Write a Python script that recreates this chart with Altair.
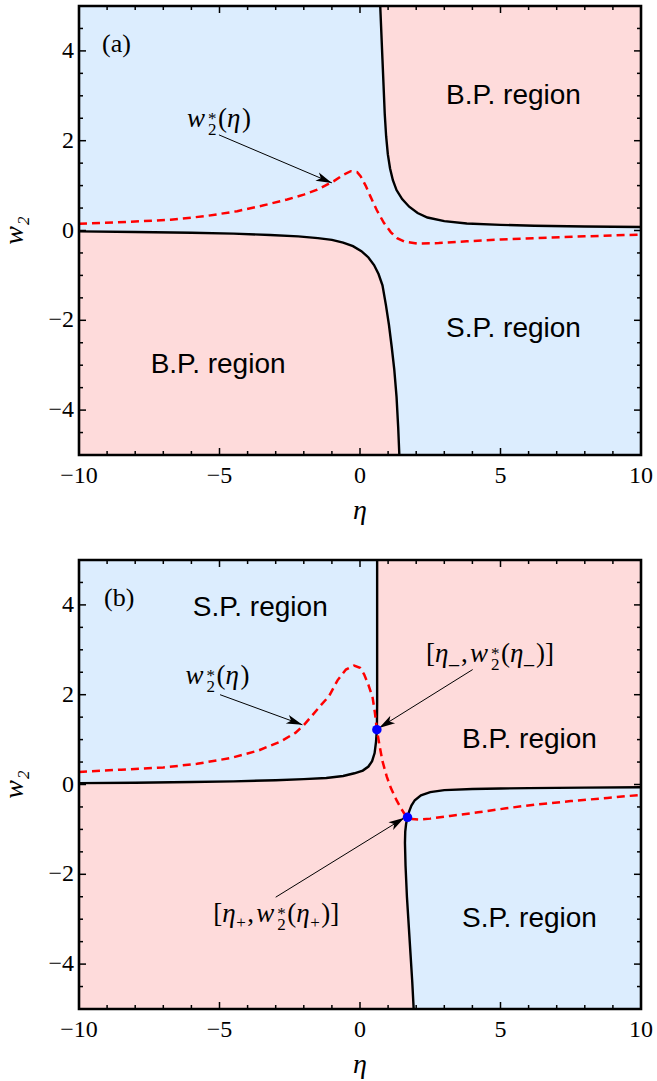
import math
import altair as alt
import pandas as pd

# ---------------- data ----------------
ETA_MIN, ETA_MAX = -10, 10
W_MIN, W_MAX = -5, 5

X_MAJOR = [-10, -5, 0, 5, 10]
X_TICK_LABELS = ["−10", "−5", "0", "5", "10"]
X_MINOR = [-9, -8, -7, -6, -4, -3, -2, -1, 1, 2, 3, 4, 6, 7, 8, 9]
Y_MAJOR = [-4, -2, 0, 2, 4]
Y_TICK_LABELS = ["−4", "−2", "0", "2", "4"]
Y_MINOR = [-4.5, -3.5, -3, -2.5, -1.5, -1, -0.5, 0.5, 1, 1.5, 2.5, 3, 3.5, 4.5]
X_TITLE = "η"
Y_TITLE = "w₂"

# panel (a)
a_upper_eta = [0.72, 0.76, 0.80, 0.84, 0.88, 0.93, 0.99, 1.07, 1.17, 1.30, 1.50, 1.75, 2.05, 2.40, 3.0, 3.8, 5.0, 6.2, 8.0, 10.0]
a_upper_w = [5.0, 4.4, 3.8, 3.2, 2.6, 2.1, 1.7, 1.38, 1.12, 0.9, 0.7, 0.53, 0.39, 0.29, 0.21, 0.155, 0.125, 0.107, 0.09, 0.078]
a_lower_eta = [-10.0, -8.0, -6.0, -4.5, -3.2, -2.2, -1.5, -1.0, -0.6, -0.25, 0.05, 0.3, 0.5, 0.66, 0.8, 0.92, 1.03, 1.13, 1.22, 1.3, 1.36, 1.4]
a_lower_w = [-0.02, -0.035, -0.05, -0.07, -0.1, -0.13, -0.17, -0.21, -0.27, -0.35, -0.46, -0.6, -0.77, -0.97, -1.22, -1.65, -2.1, -2.6, -3.1, -3.7, -4.4, -5.0]
a_red_eta = [-10, -8, -6.74, -5.5, -4.37, -3.5, -2.59, -2.0, -1.52, -0.93, -0.6, -0.33, -0.1, 0.02, 0.2, 0.37, 0.6, 0.85, 1.1, 1.32, 1.6, 2.03, 2.8, 3.8, 5.0, 6.19, 8.0, 10.0]
a_red_w = [0.15, 0.2, 0.24, 0.32, 0.43, 0.55, 0.69, 0.8, 0.91, 1.1, 1.24, 1.32, 1.3, 1.21, 1.0, 0.76, 0.45, 0.17, -0.04, -0.17, -0.25, -0.29, -0.28, -0.24, -0.2, -0.17, -0.13, -0.09]

# panel (b)
b_ul_eta = [-10.0, -8.0, -6.0, -4.5, -3.0, -2.0, -1.2, -0.6, -0.2, 0.1, 0.3, 0.43, 0.52, 0.57, 0.6, 0.61, 0.61, 0.61]
b_ul_w = [0.03, 0.04, 0.055, 0.07, 0.095, 0.12, 0.145, 0.19, 0.25, 0.31, 0.4, 0.52, 0.7, 0.95, 1.22, 1.8, 3.0, 5.0]
b_lr_eta = [1.91, 1.86, 1.80, 1.73, 1.67, 1.62, 1.60, 1.61, 1.64, 1.69, 1.75, 1.83, 1.95, 2.17, 2.5, 3.0, 4.0, 5.0, 6.0, 8.0, 10.0]
b_lr_w = [-5.0, -4.4, -3.8, -3.1, -2.5, -1.8, -1.3, -1.05, -0.88, -0.73, -0.6, -0.47, -0.35, -0.24, -0.17, -0.125, -0.1, -0.09, -0.08, -0.07, -0.06]
b_red_eta = [-10, -8.5, -7, -5.8, -4.6, -3.6, -2.82, -2.3, -1.99, -1.7, -1.4, -1.1, -0.8, -0.5, -0.21, 0.0, 0.15, 0.3, 0.45, 0.53, 0.6, 0.7, 0.8, 0.95, 1.1, 1.3, 1.45, 1.58, 1.69, 1.85, 2.1, 2.5, 3.2, 4.2, 5.2, 6.2, 7.5, 8.8, 10]
b_red_w = [0.28, 0.33, 0.38, 0.46, 0.59, 0.76, 0.96, 1.15, 1.33, 1.54, 1.76, 1.97, 2.32, 2.56, 2.65, 2.6, 2.45, 2.22, 1.93, 1.6, 1.22, 0.85, 0.52, 0.18, -0.08, -0.35, -0.52, -0.65, -0.73, -0.77, -0.78, -0.76, -0.7, -0.62, -0.53, -0.45, -0.37, -0.3, -0.23]
b_dot_eta = [0.6, 1.69]
b_dot_w = [1.22, -0.73]

# arrows: tail -> tip
a_arrow_tail_eta, a_arrow_tail_w = [-5.02], [2.13]
a_arrow_tip_eta, a_arrow_tip_w = [-1.0], [1.06]
b_arrow_tail_eta, b_arrow_tail_w = [-4.98, 4.01, -3.0], [2.0, 2.56, -2.51]
b_arrow_tip_eta, b_arrow_tip_w = [-2.05, 0.68, 1.58], [1.33, 1.26, -0.74]

# region labels
a_region_text = ["B.P. region", "S.P. region", "B.P. region"]
a_region_eta = [5.46, 5.46, -5.05]
a_region_w = [3.0, -2.2, -3.0]
b_region_text = ["S.P. region", "B.P. region", "S.P. region"]
b_region_eta = [-3.55, 6.03, 6.03]
b_region_w = [3.93, 1.0, -3.0]

# math label anchors (left, baseline)
a_wlabel = (-6.16, 2.31)
b_wlabel = (-6.21, 2.24)
b_minus_label = (2.35, 2.73)
b_plus_label = (-5.22, -3.06)
a_panel = (-9.18, 3.98)
b_panel = (-9.11, 3.98)

# ---------------- styling ----------------
W_PX, H_PX = 562, 449
BLUE = "#dcedfe"
PINK = "#fedbdb"
SERIF = "Liberation Serif"
SANS = "Liberation Sans"
ARROW_PATH = "M0,0L-0.45,1.6L0,1.2L0.45,1.6Z"
MAJOR_LEN, MINOR_LEN = 7, 4
PX_X = (ETA_MAX - ETA_MIN) / W_PX
PX_Y = (W_MAX - W_MIN) / H_PX

x_scale = alt.Scale(domain=[ETA_MIN, ETA_MAX], nice=False, zero=False)
y_scale = alt.Scale(domain=[W_MIN, W_MAX], nice=False, zero=False)


def X(f):
    return alt.X(f"{f}:Q", scale=x_scale, axis=None)


def Y(f):
    return alt.Y(f"{f}:Q", scale=y_scale, axis=None)


frame_df = pd.DataFrame({"x": [ETA_MIN], "x2": [ETA_MAX], "y": [W_MIN], "y2": [W_MAX]})


def bg_layer(color):
    return alt.Chart(frame_df).mark_rect(color=color, opacity=1).encode(
        x=X("x"), x2=alt.X2("x2"), y=Y("y"), y2=alt.Y2("y2"))


def frame_layer():
    return alt.Chart(frame_df).mark_rect(fillOpacity=0, stroke="black", strokeWidth=2.6).encode(
        x=X("x"), x2=alt.X2("x2"), y=Y("y"), y2=alt.Y2("y2"))


def tick_layers():
    """Inward ticks on all four sides of the frame."""
    out = []
    for vals, length in [(X_MAJOR, MAJOR_LEN), (X_MINOR, MINOR_LEN)]:
        for edge, off in [(W_MIN, -length / 2), (W_MAX, length / 2)]:
            df = pd.DataFrame({"eta": vals, "w": [edge] * len(vals)})
            out.append(alt.Chart(df).mark_tick(orient="vertical", size=length, thickness=1.5,
                                               color="black", opacity=1, yOffset=off).encode(
                x=X("eta"), y=Y("w")))
    for vals, length in [(Y_MAJOR, MAJOR_LEN), (Y_MINOR, MINOR_LEN)]:
        for edge, off in [(ETA_MIN, length / 2), (ETA_MAX, -length / 2)]:
            df = pd.DataFrame({"w": vals, "eta": [edge] * len(vals)})
            out.append(alt.Chart(df).mark_tick(orient="horizontal", size=length, thickness=1.5,
                                               color="black", opacity=1, xOffset=off).encode(
                x=X("eta"), y=Y("w")))
    return out


def axis_text_layers():
    """Tick labels and axis titles, placed along the frame edges."""
    xdf = pd.DataFrame({"eta": X_MAJOR, "w": [W_MIN] * len(X_MAJOR), "t": X_TICK_LABELS})
    ydf = pd.DataFrame({"eta": [ETA_MIN] * len(Y_MAJOR), "w": Y_MAJOR, "t": Y_TICK_LABELS})
    xt = pd.DataFrame({"eta": [(ETA_MIN + ETA_MAX) / 2], "w": [W_MIN], "t": [X_TITLE]})
    yt = pd.DataFrame({"eta": [ETA_MIN], "w": [(W_MIN + W_MAX) / 2], "t": [Y_TITLE]})
    return [
        alt.Chart(xdf).mark_text(font=SERIF, fontSize=24, color="black", align="center",
                                 baseline="alphabetic", dy=28).encode(x=X("eta"), y=Y("w"), text="t:N"),
        alt.Chart(ydf).mark_text(font=SERIF, fontSize=24, color="black", align="right",
                                 baseline="middle", dx=-5).encode(x=X("eta"), y=Y("w"), text="t:N"),
        alt.Chart(xt).mark_text(font=SERIF, fontSize=28, fontStyle="italic", color="black",
                                align="center", baseline="alphabetic", dy=64).encode(
            x=X("eta"), y=Y("w"), text="t:N"),
        alt.Chart(yt).mark_text(font=SERIF, fontSize=28, fontStyle="italic", color="black",
                                align="center", baseline="alphabetic", angle=270, dy=-56).encode(
            x=X("eta"), y=Y("w"), text="t:N"),
    ]


def vert_area(eta, w, edge, color):
    df = pd.DataFrame({"eta": eta, "w": w, "edge": [edge] * len(eta)})
    return alt.Chart(df).mark_area(color=color, opacity=1).encode(
        x=X("eta"), y=Y("w"), y2=alt.Y2("edge"))


def horiz_area(eta, w, edge, color):
    df = pd.DataFrame({"eta": eta, "w": w, "edge": [edge] * len(eta)})
    return alt.Chart(df).mark_area(color=color, opacity=1, orient="horizontal").encode(
        y=Y("w"), x=X("eta"), x2=alt.X2("edge"))


def curve(eta, w, color="black", width=2.4, dash=None):
    df = pd.DataFrame({"eta": eta, "w": w, "i": list(range(len(eta)))})
    kw = dict(color=color, strokeWidth=width)
    if dash:
        kw["strokeDash"] = dash
    return alt.Chart(df).mark_line(**kw).encode(x=X("eta"), y=Y("w"), order=alt.Order("i:Q"))


def arrows(t_eta, t_w, h_eta, h_w):
    angs = []
    for a, b, c, d in zip(t_eta, t_w, h_eta, h_w):
        dxp = (c - a) / PX_X
        dyp = -(d - b) / PX_Y
        angs.append(math.degrees(math.atan2(dxp, -dyp)) % 360)
    df = pd.DataFrame({"x1": t_eta, "y1": t_w, "xt": h_eta, "yt": h_w, "ang": angs})
    rule = alt.Chart(df).mark_rule(color="black", strokeWidth=1).encode(
        x=X("x1"), y=Y("y1"), x2=alt.X2("xt"), y2=alt.Y2("yt"))
    head = alt.Chart(df).mark_point(shape=ARROW_PATH, filled=True, size=400, color="black",
                                    opacity=1, strokeWidth=0).encode(
        x=X("xt"), y=Y("yt"), angle=alt.Angle("ang:Q", scale=None))
    return [rule, head]


def region_labels(texts, eta, w):
    df = pd.DataFrame({"t": texts, "eta": eta, "w": w})
    return alt.Chart(df).mark_text(font=SANS, fontSize=28, color="black", align="center",
                                   baseline="middle").encode(x=X("eta"), y=Y("w"), text="t:N")


def math_label(anchor, pieces):
    df = pd.DataFrame({"eta": [anchor[0]], "w": [anchor[1]]})
    out = []
    cur = 0
    for txt, size, italic, dy, adv in pieces:
        out.append(alt.Chart(df).mark_text(text=txt, font=SERIF, fontSize=size,
                                           fontStyle="italic" if italic else "normal",
                                           align="left", baseline="alphabetic", color="black",
                                           dx=cur, dy=dy).encode(x=X("eta"), y=Y("w")))
        cur += adv
    return out


W_STAR = [("w", 27, True, 0, 21), ("*", 17, False, -3, 0), ("2", 17, False, 8, 10)]
W_ETA = W_STAR + [("(", 27, False, 0, 9), ("η", 27, True, 0, 15), (")", 27, False, 0, 9)]
MINUS_LABEL = ([("[", 27, False, 0, 9), ("η", 27, True, 0, 14), ("_", 20, False, 1, 12), (",", 27, False, 0, 9)]
               + W_STAR + [("(", 27, False, 0, 9), ("η", 27, True, 0, 14), ("_", 20, False, 1, 12),
                           (")", 27, False, 0, 9), ("]", 27, False, 0, 9)])
PLUS_LABEL = ([("[", 27, False, 0, 9), ("η", 27, True, 0, 14), ("+", 17, False, 6, 11), (",", 27, False, 0, 9)]
              + W_STAR + [("(", 27, False, 0, 9), ("η", 27, True, 0, 14), ("+", 17, False, 6, 11),
                          (")", 27, False, 0, 9), ("]", 27, False, 0, 9)])

# ---------------- panel (a) ----------------
layers_a = [
    bg_layer(BLUE),
    vert_area(a_upper_eta, a_upper_w, W_MAX, PINK),
    vert_area(a_lower_eta, a_lower_w, W_MIN, PINK),
    curve(a_upper_eta, a_upper_w),
    curve(a_lower_eta, a_lower_w),
    curve(a_red_eta, a_red_w, color="#ff0000", width=2.5, dash=[8, 5]),
    *arrows(a_arrow_tail_eta, a_arrow_tail_w, a_arrow_tip_eta, a_arrow_tip_w),
    region_labels(a_region_text, a_region_eta, a_region_w),
    *math_label(a_wlabel, W_ETA),
    *math_label(a_panel, [("(a)", 26, False, 0, 0)]),
    *tick_layers(),
    frame_layer(),
    *axis_text_layers(),
]
panel_a = alt.layer(*layers_a).properties(width=W_PX, height=H_PX)

# ---------------- panel (b) ----------------
dots_df = pd.DataFrame({"eta": b_dot_eta, "w": b_dot_w})
layers_b = [
    bg_layer(PINK),
    horiz_area(b_ul_eta, b_ul_w, ETA_MIN, BLUE),
    horiz_area(b_lr_eta, b_lr_w, ETA_MAX, BLUE),
    curve(b_ul_eta, b_ul_w),
    curve(b_lr_eta, b_lr_w),
    curve(b_red_eta, b_red_w, color="#ff0000", width=2.5, dash=[8, 5]),
    *arrows(b_arrow_tail_eta, b_arrow_tail_w, b_arrow_tip_eta, b_arrow_tip_w),
    alt.Chart(dots_df).mark_circle(size=90, color="#0000ff", opacity=1).encode(x=X("eta"), y=Y("w")),
    region_labels(b_region_text, b_region_eta, b_region_w),
    *math_label(b_wlabel, W_ETA),
    *math_label(b_minus_label, MINUS_LABEL),
    *math_label(b_plus_label, PLUS_LABEL),
    *math_label(b_panel, [("(b)", 26, False, 0, 0)]),
    *tick_layers(),
    frame_layer(),
    *axis_text_layers(),
]
panel_b = alt.layer(*layers_b).properties(width=W_PX, height=H_PX)

chart = alt.vconcat(panel_a, panel_b, spacing=28).properties(
    padding={"left": 0, "top": 0, "right": 2, "bottom": 0}
).configure_view(strokeWidth=0).configure(background="white")

chart.save("out.html", embed_options={"renderer": "svg", "actions": False})
